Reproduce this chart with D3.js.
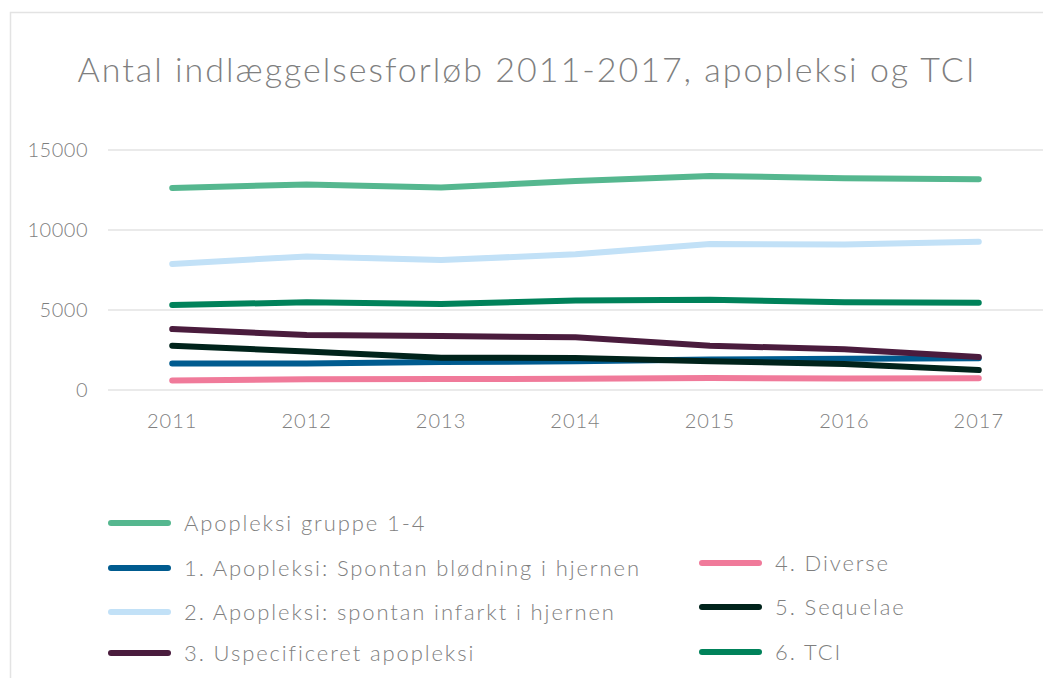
<html>
<head>
    <script src="https://cdnjs.cloudflare.com/ajax/libs/d3/7.8.5/d3.min.js"></script>
    <style>
        body { margin: 0; background: #fff; }
        text { font-family: Lato, "Open Sans", sans-serif; font-weight: 300; fill: #7f7f7f; }
    </style>
</head>
<body>
    <script>
        var years = ["2011", "2012", "2013", "2014", "2015", "2016", "2017"];
        var yTicks = [0, 5000, 10000, 15000];

        var seriesNames = ["Apopleksi gruppe 1-4",
            "1. Apopleksi: Spontan blødning i hjernen",
            "2. Apopleksi: spontan infarkt i hjernen",
            "3. Uspecificeret apopleksi",
            "4. Diverse",
            "5. Sequelae",
            "6. TCI"];

        var gruppe = [12630, 12850, 12650, 13060, 13380, 13240, 13170];
        var bloedning = [1650, 1660, 1750, 1790, 1900, 1950, 1980];
        var infarkt = [7880, 8350, 8120, 8480, 9120, 9100, 9270];
        var uspec = [3810, 3440, 3370, 3290, 2770, 2540, 2060];
        var diverse = [600, 670, 690, 700, 750, 720, 730];
        var sequelae = [2770, 2400, 2020, 2000, 1800, 1630, 1250];
        var tci = [5310, 5480, 5380, 5590, 5640, 5480, 5460];

        var colors = ["#55b78f", "#005b8f", "#c2e1f7", "#4a1c3d", "#f07a9a", "#00231b", "#00825a"];

        var allValues = [gruppe, bloedning, infarkt, uspec, diverse, sequelae, tci];

        var width = 1043;
        var height = 678;

        var svg = d3.select("body").append("svg")
            .attr("width", width)
            .attr("height", height);

        // chart frame
        svg.append("path")
            .attr("d", "M10.5," + height + "V12.5H" + width)
            .attr("fill", "none")
            .attr("stroke", "#e3e3e3")
            .attr("stroke-width", 1.5);

        svg.append("text")
            .attr("x", 527)
            .attr("y", 82)
            .attr("text-anchor", "middle")
            .style("font-size", "34px")
            .style("letter-spacing", "2px")
            .text("Antal indlæggelsesforløb 2011-2017, apopleksi og TCI");

        var x = d3.scaleBand()
            .domain(years)
            .range([105, 1046]);

        var y = d3.scaleLinear()
            .domain([0, 15000])
            .range([390, 150]);

        // gridlines
        svg.append("g")
            .selectAll("line")
            .data(yTicks)
            .enter()
            .append("line")
            .attr("x1", 108)
            .attr("x2", width)
            .attr("y1", d => y(d))
            .attr("y2", d => y(d))
            .attr("stroke", "#e3e3e3")
            .attr("stroke-width", 1.5);

        svg.append("g")
            .selectAll("text")
            .data(yTicks)
            .enter()
            .append("text")
            .attr("x", 88)
            .attr("y", d => y(d) + 7)
            .attr("text-anchor", "end")
            .style("font-size", "20px")
            .style("letter-spacing", "0.5px")
            .text(d => d);

        svg.append("g")
            .selectAll("text")
            .data(years)
            .enter()
            .append("text")
            .attr("x", d => x(d) + x.bandwidth() / 2)
            .attr("y", 428)
            .attr("text-anchor", "middle")
            .style("font-size", "20px")
            .style("letter-spacing", "1px")
            .text(d => d);

        var line = d3.line()
            .x((d, i) => x(years[i]) + x.bandwidth() / 2)
            .y(d => y(d));

        for (var i = 0; i < allValues.length; i++) {
            svg.append("path")
                .datum(allValues[i])
                .attr("fill", "none")
                .attr("stroke", colors[i])
                .attr("stroke-width", 6)
                .attr("stroke-linecap", "round")
                .attr("stroke-linejoin", "round")
                .attr("d", line);
        }

        // legend: two columns
        var legendPos = [
            { x: 111, y: 523 }, { x: 111, y: 568 }, { x: 111, y: 612 }, { x: 111, y: 653 },
            { x: 702, y: 563 }, { x: 702, y: 607 }, { x: 702, y: 652 }
        ];

        var legend = svg.append("g")
            .selectAll("g")
            .data(seriesNames)
            .enter()
            .append("g")
            .attr("transform", (d, i) => "translate(" + legendPos[i].x + "," + legendPos[i].y + ")");

        legend.append("line")
            .attr("x1", 0)
            .attr("x2", 57)
            .attr("stroke", (d, i) => colors[i])
            .attr("stroke-width", 6)
            .attr("stroke-linecap", "round");

        legend.append("text")
            .attr("x", 73)
            .attr("y", 8)
            .style("font-size", "22px")
            .style("letter-spacing", "1.9px")
            .text(d => d);
    </script>
</body>
</html>
